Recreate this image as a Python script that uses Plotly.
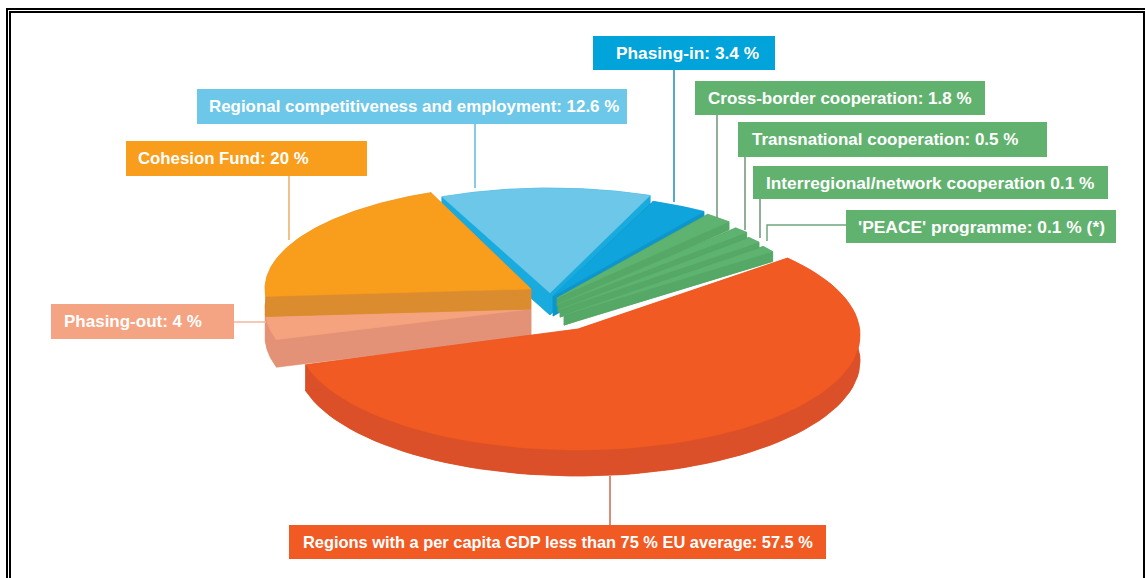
import numpy as np
import plotly.graph_objects as go

# Cohesion policy allocation, in percent
categories = [
    "Regions with a per capita GDP less than 75 % EU average",
    "Phasing-out",
    "Cohesion Fund",
    "Regional competitiveness and employment",
    "Phasing-in",
    "Cross-border cooperation",
    "Transnational cooperation",
    "Interregional/network cooperation",
    "'PEACE' programme",
]
values = [57.5, 4, 20, 12.6, 3.4, 1.8, 0.5, 0.1, 0.1]
label_texts = [
    "Regions with a per capita GDP less than 75 % EU average: 57.5 %",
    "Phasing-out: 4 %",
    "Cohesion Fund: 20 %",
    "Regional competitiveness and employment: 12.6 %",
    "Phasing-in: 3.4 %",
    "Cross-border cooperation: 1.8 %",
    "Transnational cooperation: 0.5 %",
    "Interregional/network cooperation 0.1 %",
    "'PEACE' programme: 0.1 % (*)",
]

# Surface, wall and label colours per slice
top_colors = ["#F15A22", "#F5A27E", "#F99D1C", "#6DC7E8", "#0FA5DC",
              "#5FB370", "#5FB370", "#5FB370", "#5FB370"]
wall_colors = ["#DB5029", "#E39277", "#DB8C2E", "#19ABDD", "#0E96CC",
               "#55A866", "#55A866", "#55A866", "#55A866"]
box_colors = ["#F15A22", "#F4A482", "#F99D1C", "#6DC7E8", "#00A3DA",
              "#62B26F", "#62B26F", "#62B26F", "#62B26F"]
line_colors = ["#C9694A", "#F2B79E", "#E8AE62", "#5CBAD8", "#1E8FB8",
               "#6E9579", "#6E9579", "#6E9579", "#6FA67C"]

# Exploded geometry per slice: apex, ellipse centre offset and radii,
# extrusion depth, angular nudge
apex_x = [578, 531, 531, 550, 553, 557, 558, 560, 564]
apex_y = [329, 309, 289, 293, 296, 298, 304, 309, 315]
center_dy = [6, 0, 0, 0, 0, 0, 0, 0, 0]
radius_x = [282, 266, 266, 270, 270, 250, 258, 258, 258]
radius_y = [115, 107, 104, 105, 102, 105, 105, 105, 108]
depth = [26, 27, 20, 22, 20, 8, 8, 8, 10]
nudge = [-2, 0, 1.5, 3, 3, 0, 0, 0, 0]

# Label boxes (x0, y0, x1, y1), left edge of the text and its size
boxes = [
    (289, 525, 826, 559), (51, 304, 234, 339), (126, 141, 367, 176),
    (197, 89, 627, 124), (593, 36, 775, 70), (695, 81, 985, 115),
    (738, 122, 1047, 157), (753, 166, 1108, 199), (846, 210, 1116, 243),
]
text_x = [302, 63, 137, 208, 615, 707, 751, 765, 857]
text_size = [16.4, 17, 16.8, 16.9, 17.3, 17, 17, 17.3, 17.4]

# Leader lines from each box to its slice
leaders = [
    [(610, 476), (610, 525)], [(234, 322), (266, 322)], [(289, 176), (289, 240)],
    [(475, 124), (475, 188)], [(674, 70), (674, 202)], [(717, 115), (717, 218)],
    [(745, 157), (745, 230)], [(760, 199), (760, 238)],
    [(846, 225), (767, 225), (767, 241)],
]

# Each percent sweeps 3.6 degrees; very thin slices get a minimum sweep to stay visible
MIN_SWEEP = 3.5
ROTATION = 44.0
sweeps = np.maximum(np.array(values) * 3.6, MIN_SWEEP)
starts = ROTATION - np.concatenate(([0.0], np.cumsum(sweeps)[:-1])) + np.array(nudge)


def wedge(i):
    """Rim of one slice on its own ellipse, clockwise."""
    theta = np.radians(np.linspace(starts[i], starts[i] - sweeps[i], 80))
    x = apex_x[i] + radius_x[i] * np.cos(theta)
    y = apex_y[i] + center_dy[i] - radius_y[i] * np.sin(theta)
    return x, y


fig = go.Figure()


def add_polygon(x, y, color, **extra):
    extra.setdefault("hoverinfo", "skip")
    fig.add_trace(go.Scatter(x=np.r_[x, x[0]], y=np.r_[y, y[0]], mode="lines",
                             fill="toself", fillcolor=color,
                             line=dict(color=color, width=0.5), **extra))


def add_slice(i):
    ax, ay, d = apex_x[i], apex_y[i], depth[i]
    x, y = wedge(i)
    color = wall_colors[i]
    # Floor of the slice, outer rim, then the two cut faces
    add_polygon(np.r_[ax, x], np.r_[ay + d, y + d], color)
    add_polygon(np.r_[x, x[::-1]], np.r_[y, y[::-1] + d], color)
    add_polygon(np.array([ax, x[0], x[0], ax]), np.array([ay, y[0], y[0] + d, ay + d]), color)
    add_polygon(np.array([ax, x[-1], x[-1], ax]), np.array([ay, y[-1], y[-1] + d, ay + d]), color)
    # Upper surface
    add_polygon(np.r_[ax, x], np.r_[ay, y], top_colors[i], name=categories[i],
                text=f"{values[i]} %", hoverinfo="name+text")


# Back slices first; the green sliver fan sits over the tip of the large slice
for i in [3, 4, 1, 2, 0, 5, 6, 7, 8]:
    add_slice(i)

for i, path in enumerate(leaders):
    fig.add_trace(go.Scatter(x=[p[0] for p in path], y=[p[1] for p in path],
                             mode="lines", hoverinfo="skip",
                             line=dict(color=line_colors[i], width=1.5)))

shapes = []
annotations = []
for i, (x0, y0, x1, y1) in enumerate(boxes):
    shapes.append(dict(type="rect", xref="x", yref="y", x0=x0, y0=y0, x1=x1, y1=y1,
                       fillcolor=box_colors[i], line=dict(width=0), layer="above"))
    annotations.append(dict(x=text_x[i], y=(y0 + y1) / 2, xref="x", yref="y",
                            xanchor="left", yanchor="middle", showarrow=False,
                            text=label_texts[i], borderpad=0,
                            font=dict(family="Liberation Sans, Arial, sans-serif",
                                      size=text_size[i], color="#FFFFFF", weight="bold")))

# Double page frame, open at the bottom edge
frame_lines = [
    (7, 578, 7, 9), (6, 9, 1145, 9),
    (10, 578, 10, 12), (9, 12, 1145, 12), (1144, 11, 1144, 578),
]
for x0, y0, x1, y1 in frame_lines:
    shapes.append(dict(type="line", xref="x", yref="y", x0=x0, y0=y0, x1=x1, y1=y1,
                       line=dict(color="#000000", width=2), layer="above"))

fig.update_layout(
    width=1145, height=578, showlegend=False,
    margin=dict(l=0, r=0, t=0, b=0),
    paper_bgcolor="#FFFFFF", plot_bgcolor="#FFFFFF",
    xaxis=dict(range=[0, 1145], visible=False, fixedrange=True),
    yaxis=dict(range=[578, 0], visible=False, fixedrange=True),
    shapes=shapes, annotations=annotations,
)

fig.write_html("out.html", config=dict(displayModeBar=False))
